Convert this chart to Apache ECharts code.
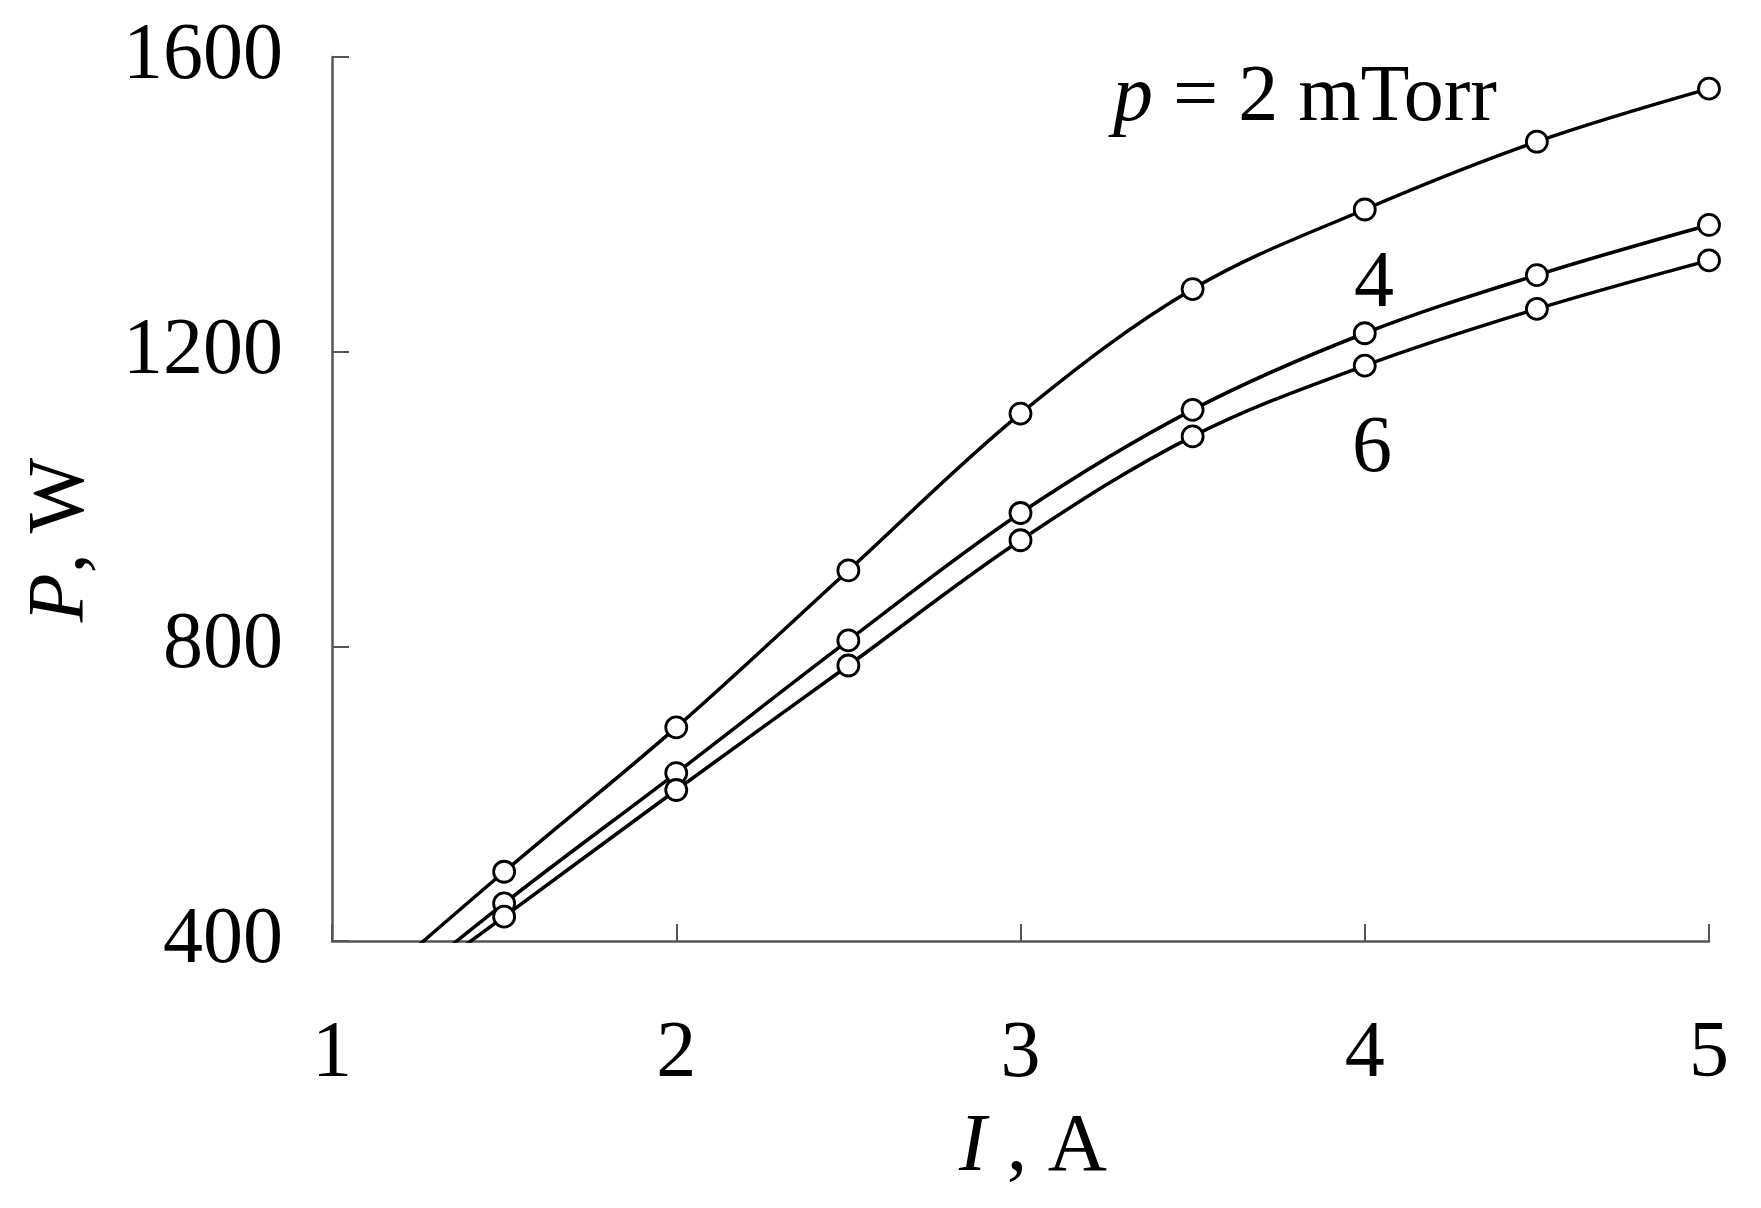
<!DOCTYPE html>
<html>
<head>
<meta charset="utf-8">
<script src="https://cdn.jsdelivr.net/npm/echarts@6/dist/echarts.min.js"></script>
<style>
html,body{margin:0;padding:0;background:#fff;}
#chart{width:1761px;height:1208px;}
</style>
</head>
<body>
<div id="chart"></div>
<script>
// Current I (A)
var currents = [1, 1.5, 2, 2.5, 3, 3.5, 4, 4.5, 5];
// Power P (W) for each pressure; first point (I=1) lies below the visible range
var power2mTorr = [292, 494, 690, 903, 1116, 1285, 1393, 1485, 1557];
var power4mTorr = [262, 451, 628, 808, 981, 1121, 1225, 1304, 1372];
var power6mTorr = [262, 433, 605, 774, 944, 1085, 1181, 1258, 1324];
var xTicks = [1, 2, 3, 4, 5];
var yTicks = [400, 800, 1200, 1600];

var FONT = '"Liberation Serif", "Times New Roman", serif';
var AXIS_COLOR = '#555';

function pairs(vals) {
  return currents.map(function (x, i) { return [x, vals[i]]; });
}

function lineSeries(name, vals) {
  return {
    name: name,
    type: 'line',
    data: pairs(vals),
    smooth: 0.35,
    clip: true,
    symbol: 'circle',
    symbolSize: 21,
    lineStyle: { color: '#000', width: 3.5 },
    itemStyle: { color: '#fff', borderColor: '#000', borderWidth: 2.8 },
    z: 3
  };
}

var chart = echarts.init(document.getElementById('chart'));
chart.setOption({
  backgroundColor: '#fff',
  animation: false,
  grid: { left: 332, right: 52, top: 57, bottom: 267 },
  xAxis: {
    type: 'value',
    min: xTicks[0],
    max: xTicks[xTicks.length - 1],
    interval: 1,
    axisLine: { show: true, lineStyle: { color: AXIS_COLOR, width: 2.5 } },
    axisTick: { show: true, inside: true, length: 17, lineStyle: { color: AXIS_COLOR, width: 2 } },
    splitLine: { show: false },
    axisLabel: { fontFamily: FONT, fontSize: 80, color: '#000', margin: 74,
      formatter: function (v) { return String(v); } }
  },
  yAxis: {
    type: 'value',
    min: yTicks[0],
    max: yTicks[yTicks.length - 1],
    interval: 400,
    axisLine: { show: true, lineStyle: { color: AXIS_COLOR, width: 2.5 } },
    axisTick: { show: true, inside: true, length: 17, lineStyle: { color: AXIS_COLOR, width: 2 } },
    splitLine: { show: false },
    axisLabel: { fontFamily: FONT, fontSize: 80, color: '#000', margin: 49,
      formatter: function (v) { return String(v); } }
  },
  series: [
    lineSeries('2 mTorr', power2mTorr),
    lineSeries('4 mTorr', power4mTorr),
    lineSeries('6 mTorr', power6mTorr)
  ],
  graphic: [
    {
      type: 'text', z: 50,
      x: 1305, y: 99,
      style: {
        text: '{i|p} = 2 mTorr',
        font: '80px ' + FONT,
        fill: '#000',
        align: 'center',
        verticalAlign: 'middle',
        rich: { i: { fontStyle: 'italic', fontFamily: FONT, fontSize: 80 } }
      }
    },
    {
      type: 'text', z: 50,
      x: 1374, y: 285,
      style: { text: '4', font: '80px ' + FONT, fill: '#000', align: 'center', verticalAlign: 'middle' }
    },
    {
      type: 'text', z: 50,
      x: 1372, y: 450,
      style: { text: '6', font: '80px ' + FONT, fill: '#000', align: 'center', verticalAlign: 'middle' }
    },
    {
      type: 'text', z: 50,
      x: 1033, y: 1148,
      style: {
        text: '{i|I} , A',
        font: '82px ' + FONT,
        fill: '#000',
        align: 'center',
        verticalAlign: 'middle',
        rich: { i: { fontStyle: 'italic', fontFamily: FONT, fontSize: 82 } }
      }
    },
    {
      type: 'text', z: 50,
      x: 62, y: 540,
      rotation: Math.PI / 2,
      style: {
        text: '{i|P}, W',
        font: '80px ' + FONT,
        fill: '#000',
        align: 'center',
        verticalAlign: 'middle',
        rich: { i: { fontStyle: 'italic', fontFamily: FONT, fontSize: 80 } }
      }
    }
  ]
});
</script>
</body>
</html>
